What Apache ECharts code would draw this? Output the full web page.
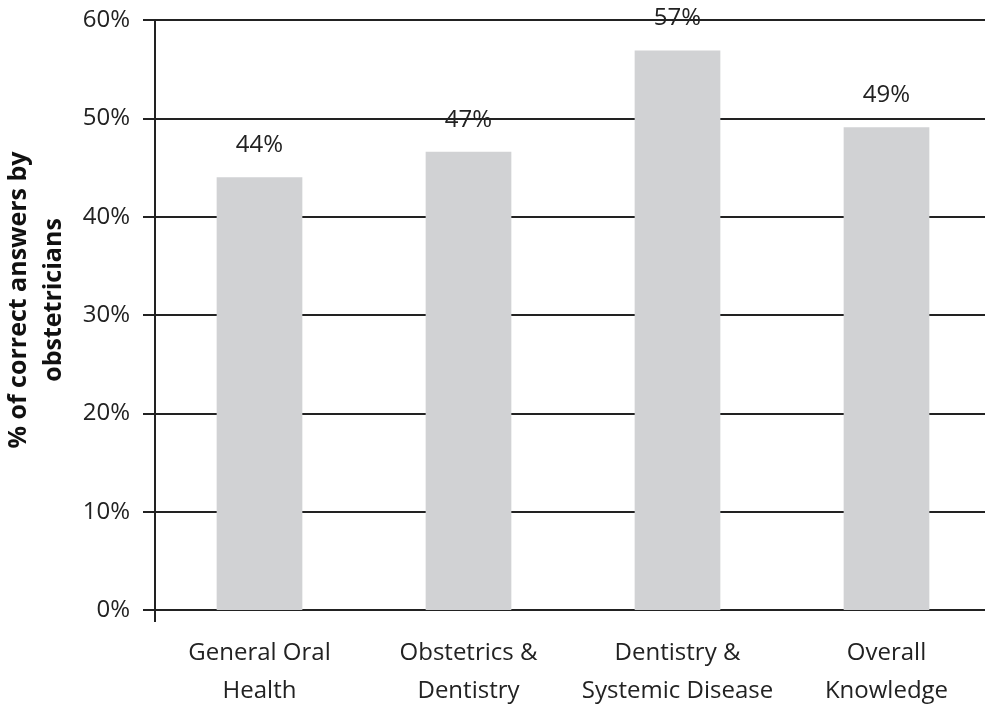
<!DOCTYPE html>
<html>
<head>
<meta charset="utf-8">
<script src="https://cdn.jsdelivr.net/npm/echarts@6/dist/echarts.min.js"></script>
<style>
  html, body { margin: 0; padding: 0; background: #fff; }
  #chart { width: 985px; height: 708px; }
</style>
</head>
<body>
<div id="chart"></div>
<script>
// categories and values
var categories = ['General Oral\nHealth', 'Obstetrics &\nDentistry', 'Dentistry &\nSystemic Disease', 'Overall\nKnowledge'];
var correctPct = [44.0, 46.6, 56.9, 49.1];
var yTicks = [0, 10, 20, 30, 40, 50, 60];

var FONT = '"Open Sans", "Noto Sans", sans-serif';
var INK = '#222';

var chart = echarts.init(document.getElementById('chart'), null, { renderer: 'canvas' });

chart.setOption({
    animation: false,
    grid: { left: 155, right: -6, top: 20, bottom: 98, containLabel: false, outerBoundsMode: 'none' },
    xAxis: {
        type: 'category',
        data: categories,
        axisLine: { show: true, lineStyle: { color: INK, width: 2 } },
        axisTick: {
            show: true,
            length: 12,
            interval: function (idx) { return idx === 0; },
            lineStyle: { color: INK, width: 2 }
        },
        axisLabel: {
            fontFamily: FONT, fontSize: 24, color: INK,
            lineHeight: 38, margin: 24, interval: 0
        }
    },
    yAxis: {
        type: 'value',
        min: yTicks[0],
        max: yTicks[yTicks.length - 1],
        interval: 10,
        name: '% of correct answers by\nobstetricians',
        nameLocation: 'middle',
        nameGap: 74,
        nameTextStyle: {
            fontFamily: FONT, fontSize: 25, fontWeight: 'bold', color: '#111', lineHeight: 35,
            padding: [0, 0, 0, 30]
        },
        axisLine: { show: true, lineStyle: { color: INK, width: 2 } },
        axisTick: { show: true, inside: false, length: 12, lineStyle: { color: INK, width: 2 } },
        axisLabel: {
            fontFamily: FONT, fontSize: 24, color: INK, margin: 25,
            formatter: function (v) { return v + '%'; }
        },
        splitLine: { show: true, lineStyle: { color: INK, width: 2 } }
    },
    series: [{
        type: 'bar',
        data: correctPct,
        barWidth: '41%',
        itemStyle: { color: '#d1d2d4' },
        label: {
            show: true,
            position: 'top',
            distance: 20,
            fontFamily: FONT, fontSize: 24, color: INK,
            formatter: function (p) { return Math.round(p.value) + '%'; }
        }
    }]
});
</script>
</body>
</html>
